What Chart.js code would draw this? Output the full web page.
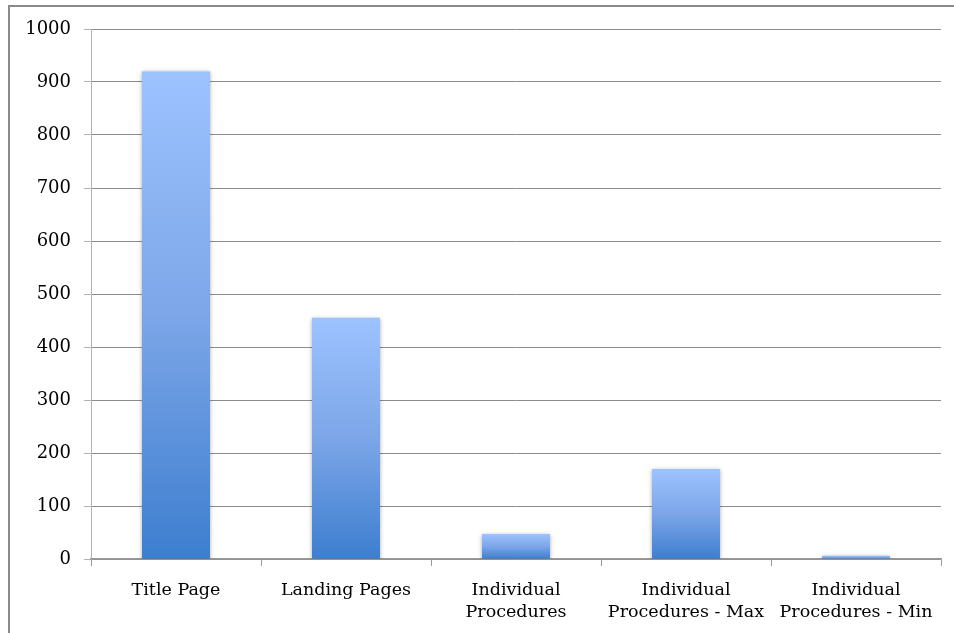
<!DOCTYPE html>
<html>
<head>
<meta charset="utf-8">
<script src="https://cdn.jsdelivr.net/npm/chart.js@4.4.1/dist/chart.umd.min.js"></script>
<style>
  html, body { margin: 0; padding: 0; background: #fff; }
  #wrap { position: relative; width: 954px; height: 633px; overflow: hidden; }
  #frame { position: absolute; left: 8px; top: 5px; width: 2000px; height: 2000px;
           border-left: 2px solid #8a8a8a; border-top: 2px solid #8a8a8a; }
  canvas { position: absolute; left: 0; top: 0; }
</style>
</head>
<body>
<div id="wrap">
  <div id="frame"></div>
  <canvas id="pagesChart" width="954" height="633"></canvas>
</div>
<script>
const categories = [
  'Title Page',
  'Landing Pages',
  ['Individual', 'Procedures'],
  ['Individual', 'Procedures - Max'],
  ['Individual', 'Procedures - Min']
];
const pageCounts = [920, 455, 47, 170, 6];
const yTicks = [0, 100, 200, 300, 400, 500, 600, 700, 800, 900, 1000];

// vertical gradient spanning each bar from its top down to zero
function barGradient(context) {
  const chart = context.chart;
  const y = chart.scales.y;
  if (!y || !chart.chartArea) return '#6f9be0';
  const top = y.getPixelForValue(context.raw);
  const bottom = y.getPixelForValue(0);
  if (!isFinite(top) || bottom - top < 1) return '#6f9be0';
  const g = chart.ctx.createLinearGradient(0, top, 0, bottom);
  g.addColorStop(0, '#9dc3ff');
  g.addColorStop(0.5, '#7ca6e8');
  g.addColorStop(1, '#3d7ecf');
  return g;
}

const barShadow = {
  id: 'barShadow',
  beforeDatasetsDraw(chart) {
    const c = chart.ctx;
    c.save();
    c.shadowColor = 'rgba(0,0,0,0.35)';
    c.shadowBlur = 4;
    c.shadowOffsetX = 0;
    c.shadowOffsetY = 1;
  },
  afterDatasetsDraw(chart) {
    chart.ctx.restore();
  }
};

const ctx = document.getElementById('pagesChart').getContext('2d');

const pagesChart = new Chart(ctx, {
  type: 'bar',
  data: {
    labels: categories,
    datasets: [{
      label: 'Pages',
      data: pageCounts,
      backgroundColor: barGradient,
      borderWidth: 0,
      barPercentage: 0.8,
      categoryPercentage: 0.5
    }]
  },
  plugins: [barShadow],
  options: {
    responsive: false,
    animation: false,
    layout: { padding: { top: 29, right: 13, bottom: 0, left: 0 } },
    plugins: {
      legend: { display: false },
      tooltip: { enabled: false }
    },
    scales: {
      y: {
        min: 0,
        max: 1000,
        afterFit: s => { s.width = 91; },
        afterBuildTicks: s => { s.ticks = yTicks.map(v => ({ value: v })); },
        border: { color: '#b3b3b3', width: 1 },
        grid: {
          color: '#8c8c8c',
          lineWidth: 1,
          tickColor: '#b3b3b3',
          tickLength: 7
        },
        ticks: {
          color: '#000',
          padding: 13,
          callback: v => String(v),
          font: { family: 'DejaVu Serif', size: 18 }
        }
      },
      x: {
        afterFit: s => { s.height = 74; },
        border: { color: '#999', width: 1.5 },
        grid: {
          offset: true,
          drawOnChartArea: false,
          tickColor: '#999',
          tickLength: 7
        },
        ticks: {
          color: '#000',
          padding: 14,
          maxRotation: 0,
          autoSkip: false,
          font: { family: 'DejaVu Serif', size: 17.5, lineHeight: 1.25 }
        }
      }
    }
  }
});
</script>
</body>
</html>
